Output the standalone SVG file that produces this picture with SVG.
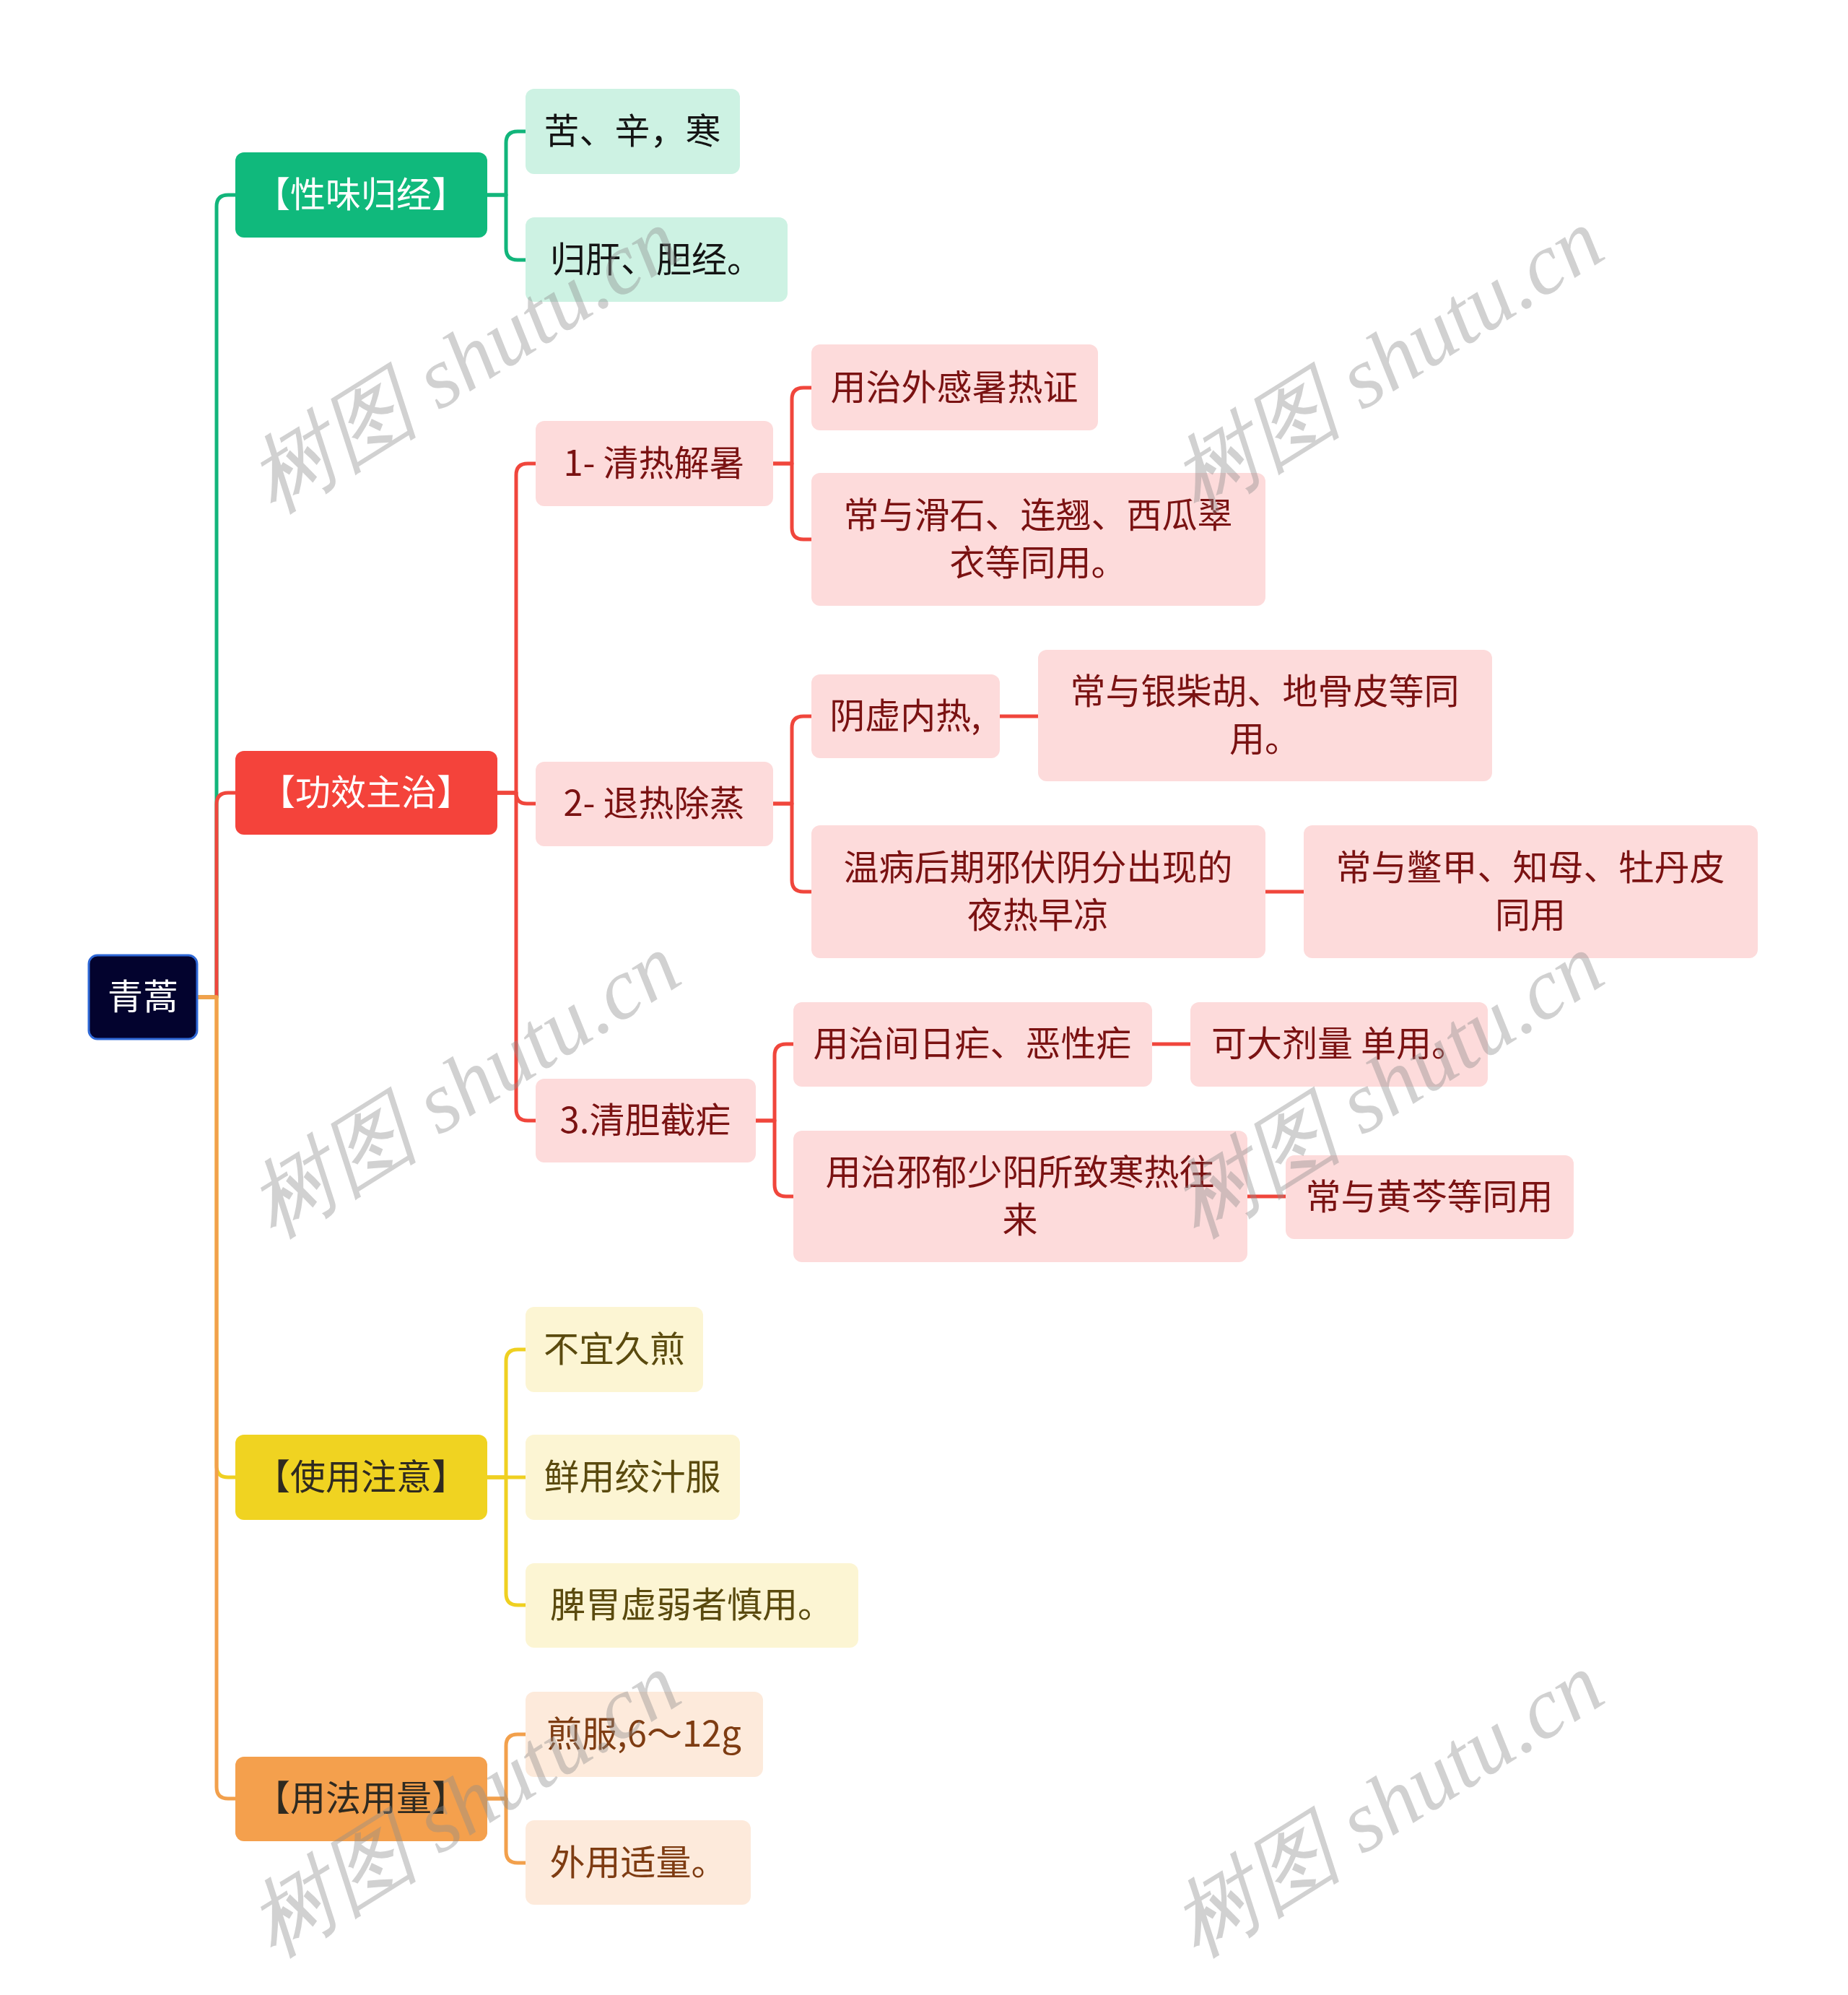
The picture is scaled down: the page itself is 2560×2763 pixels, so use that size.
<svg xmlns="http://www.w3.org/2000/svg" width="2560" height="2763" viewBox="0 0 2560 2763">
<style>
text{font-family:"Noto Sans CJK SC","Noto Sans",sans-serif;font-size:49px;text-anchor:middle}
.c{fill:none;stroke-width:5;stroke-linecap:round;stroke-linejoin:round}
.cg{stroke:#12b57b}.cr{stroke:#f0463c}.cy{stroke:#efd021}.co{stroke:#f2a04c}
.root{fill:#03032e;stroke:#2f68d6;stroke-width:3}
.g1{fill:#10b97c}.r1{fill:#f4433b}.y1{fill:#f0d321}.o1{fill:#f4a04d}
.g2{fill:#cdf2e3}.r2{fill:#fddbdb}.y2{fill:#fcf5d3}.o2{fill:#fdeadb}
.tw{fill:#ffffff}.td{fill:#2f2a20}.tk{fill:#141414}.tr{fill:#7a1212}.ty{fill:#5a4a0e}.to{fill:#7e3c12}
.wm{font-family:"Liberation Serif","DejaVu Serif",serif;font-size:120px;font-style:italic;fill:#8c8c8c;fill-opacity:0.4;text-anchor:middle}
</style>
<g id="connectors">
<path class="c cg" d="M273,1381 H300 V286 Q300,270 316,270 H326"/>
<path class="c cr" d="M273,1381 H300 V1114 Q300,1098 316,1098 H326"/>
<path class="c cy" d="M273,1381 H300 V2030 Q300,2046 316,2046 H326"/>
<path class="c co" d="M273,1381 H300 V2475 Q300,2491 316,2491 H326"/>
<path class="c cg" d="M675,270 H701 V198 Q701,182 717,182 H728"/>
<path class="c cg" d="M675,270 H701 V344 Q701,360 717,360 H728"/>
<path class="c cr" d="M689,1098 H715 V658 Q715,642 731,642 H742"/>
<path class="c cr" d="M689,1098 H715 Q715,1113 730,1113 H742"/>
<path class="c cr" d="M689,1098 H715 V1536 Q715,1552 731,1552 H742"/>
<path class="c cr" d="M1071,642 H1097 V553 Q1097,537 1113,537 H1124"/>
<path class="c cr" d="M1071,642 H1097 V731 Q1097,747 1113,747 H1124"/>
<path class="c cr" d="M1071,1113 H1097 V1008 Q1097,992 1113,992 H1124"/>
<path class="c cr" d="M1071,1113 H1097 V1219 Q1097,1235 1113,1235 H1124"/>
<path class="c cr" d="M1047,1552 H1073 V1462 Q1073,1446 1089,1446 H1099"/>
<path class="c cr" d="M1047,1552 H1073 V1641 Q1073,1657 1089,1657 H1099"/>
<path class="c cr" d="M1385,992 H1438"/>
<path class="c cr" d="M1753,1235 H1806"/>
<path class="c cr" d="M1596,1446 H1649"/>
<path class="c cr" d="M1728,1657 H1781"/>
<path class="c cy" d="M675,2046 H701 V1885 Q701,1869 717,1869 H728"/>
<path class="c cy" d="M675,2046 H728"/>
<path class="c cy" d="M675,2046 H701 V2207 Q701,2223 717,2223 H728"/>
<path class="c co" d="M675,2491 H701 V2418 Q701,2402 717,2402 H728"/>
<path class="c co" d="M675,2491 H701 V2564 Q701,2580 717,2580 H728"/>
</g>
<g id="n-root"><rect class="root" x="123" y="1323" width="150" height="116" rx="12"/><text class="tw" x="198" y="1398">青蒿</text></g>
<g id="n-xwgj"><rect class="g1" x="326" y="211" width="349" height="118" rx="12"/><text class="tw" x="500" y="287">【性味归经】</text></g>
<g id="n-gxzz"><rect class="r1" x="326" y="1040" width="363" height="116" rx="12"/><text class="tw" x="507" y="1115">【功效主治】</text></g>
<g id="n-syzy"><rect class="y1" x="326" y="1987" width="349" height="118" rx="12"/><text class="td" x="500" y="2063">【使用注意】</text></g>
<g id="n-yfyl"><rect class="o1" x="326" y="2433" width="349" height="117" rx="12"/><text class="td" x="500" y="2508">【用法用量】</text></g>
<g id="n-kxh"><rect class="g2" x="728" y="123" width="297" height="118" rx="12"/><text class="tk" x="876" y="199">苦、辛，寒</text></g>
<g id="n-ggdj"><rect class="g2" x="728" y="301" width="363" height="117" rx="12"/><text class="tk" x="909" y="377">归肝、胆经。</text></g>
<g id="n-q1"><rect class="r2" x="742" y="583" width="329" height="118" rx="12"/><text class="tr" x="906" y="659">1- 清热解暑</text></g>
<g id="n-q2"><rect class="r2" x="742" y="1055" width="329" height="117" rx="12"/><text class="tr" x="906" y="1130">2- 退热除蒸</text></g>
<g id="n-q3"><rect class="r2" x="742" y="1494" width="305" height="116" rx="12"/><text class="tr" x="894" y="1569">3.清胆截疟</text></g>
<g id="n-wgsr"><rect class="r2" x="1124" y="477" width="397" height="119" rx="12"/><text class="tr" x="1322" y="554">用治外感暑热证</text></g>
<g id="n-hs"><rect class="r2" x="1124" y="655" width="629" height="184" rx="12"/><text class="tr" x="1438" y="731">常与滑石、连翘、西瓜翠</text><text class="tr" x="1438" y="797">衣等同用。</text></g>
<g id="n-yxnr"><rect class="r2" x="1124" y="934" width="261" height="116" rx="12"/><text class="tr" x="1254" y="1009">阴虚内热,</text></g>
<g id="n-ych"><rect class="r2" x="1438" y="900" width="629" height="182" rx="12"/><text class="tr" x="1752" y="975">常与银柴胡、地骨皮等同</text><text class="tr" x="1752" y="1041">用。</text></g>
<g id="n-wb"><rect class="r2" x="1124" y="1143" width="629" height="184" rx="12"/><text class="tr" x="1438" y="1219">温病后期邪伏阴分出现的</text><text class="tr" x="1438" y="1285">夜热早凉</text></g>
<g id="n-bj"><rect class="r2" x="1806" y="1143" width="629" height="184" rx="12"/><text class="tr" x="2120" y="1219">常与鳖甲、知母、牡丹皮</text><text class="tr" x="2120" y="1285">同用</text></g>
<g id="n-jrn"><rect class="r2" x="1099" y="1388" width="497" height="117" rx="12"/><text class="tr" x="1347" y="1463">用治间日疟、恶性疟</text></g>
<g id="n-dj"><rect class="r2" x="1649" y="1388" width="412" height="117" rx="12"/><text class="tr" x="1855" y="1463">可大剂量 单用。</text></g>
<g id="n-xy"><rect class="r2" x="1099" y="1566" width="629" height="182" rx="12"/><text class="tr" x="1413" y="1641">用治邪郁少阳所致寒热往</text><text class="tr" x="1413" y="1707">来</text></g>
<g id="n-hq"><rect class="r2" x="1781" y="1600" width="399" height="116" rx="12"/><text class="tr" x="1980" y="1675">常与黄芩等同用</text></g>
<g id="n-byjj"><rect class="y2" x="728" y="1810" width="246" height="118" rx="12"/><text class="ty" x="851" y="1886">不宜久煎</text></g>
<g id="n-xyjz"><rect class="y2" x="728" y="1987" width="297" height="118" rx="12"/><text class="ty" x="876" y="2063">鲜用绞汁服</text></g>
<g id="n-pw"><rect class="y2" x="728" y="2165" width="461" height="117" rx="12"/><text class="ty" x="958" y="2240">脾胃虚弱者慎用。</text></g>
<g id="n-jf"><rect class="o2" x="728" y="2343" width="329" height="118" rx="12"/><text class="to" x="892" y="2419">煎服,6～12g</text></g>
<g id="n-wy"><rect class="o2" x="728" y="2521" width="312" height="117" rx="12"/><text class="to" x="884" y="2597">外用适量。</text></g>
<g id="watermarks">
<text class="wm" transform="translate(643,500) rotate(-32)" x="0" y="40">树图 shutu.cn</text>
<text class="wm" transform="translate(1922,500) rotate(-32)" x="0" y="40">树图 shutu.cn</text>
<text class="wm" transform="translate(643,1504) rotate(-32)" x="0" y="40">树图 shutu.cn</text>
<text class="wm" transform="translate(1922,1504) rotate(-32)" x="0" y="40">树图 shutu.cn</text>
<text class="wm" transform="translate(643,2500) rotate(-32)" x="0" y="40">树图 shutu.cn</text>
<text class="wm" transform="translate(1922,2500) rotate(-32)" x="0" y="40">树图 shutu.cn</text>
</g>
</svg>
